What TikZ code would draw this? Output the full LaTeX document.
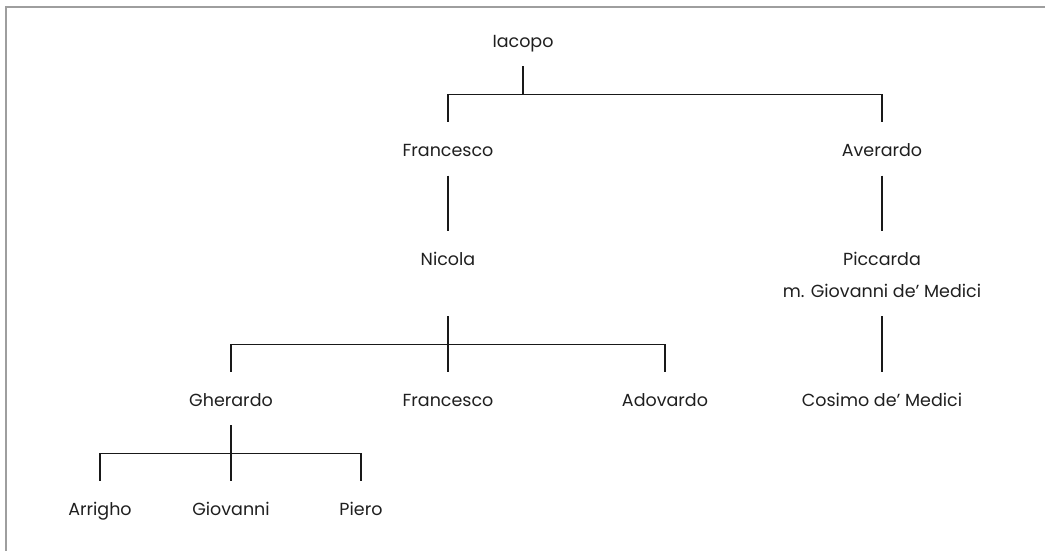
\documentclass[tikz,border=0pt]{standalone}
\usepackage{fontspec}
\setmainfont{Poppins}
\usetikzlibrary{calc}
\begin{document}
\begin{tikzpicture}[x=1pt,y=-1pt,
  person/.style={anchor=base,inner xsep=0pt,inner ysep=15pt,text height=19pt,text depth=4pt,
    font=\fontsize{17.5}{20}\selectfont,text=black!88},
  link/.style={line width=1.1pt,black!90},
  frame/.style={line width=1.6pt,black!38}]
\useasboundingbox (0,0) rectangle (1045,550);
\draw[frame] (6,560) -- (6,7) -- (1055,7);
\node[person] (iacopo) at (523,47) {Iacopo};
\node[person] (fra1) at (448,156.5) {Francesco};
\node[person] (ave) at (882,156.5) {Averardo};
\node[person] (nic) at (448,265) {Nicola};
\node[person] (pic) at (882,265) {Piccarda};
\node[person] (picm) at (882,297) {m. Giovanni de’ Medici};
\node[person] (ghe) at (231,406) {Gherardo};
\node[person] (fra2) at (448,406) {Francesco};
\node[person] (ado) at (665,406) {Adovardo};
\node[person] (cos) at (882,406) {Cosimo de’ Medici};
\node[person] (arr) at (100,515) {Arrigho};
\node[person] (gio) at (231,515) {Giovanni};
\node[person] (pie) at (361,515) {Piero};
\draw[link] (iacopo.south) -- ++(0,28) -| (fra1.north);
\draw[link] (iacopo.south) -- ++(0,28) -| (ave.north);
\draw[link] (fra1.south) -- (nic.north);
\draw[link] (ave.south) -- (pic.north);
\draw[link] (picm.south) -- (cos.north);
\coordinate (nicb) at (nic |- picm.south);
\draw[link] (nicb) -- ++(0,28) -| (ghe.north);
\draw[link] (nicb) -- ++(0,28) -| (fra2.north);
\draw[link] (nicb) -- ++(0,28) -| (ado.north);
\draw[link] (ghe.south) -- ++(0,28) -| (arr.north);
\draw[link] (ghe.south) -- ++(0,28) -| (gio.north);
\draw[link] (ghe.south) -- ++(0,28) -| (pie.north);
\end{tikzpicture}
\end{document}
